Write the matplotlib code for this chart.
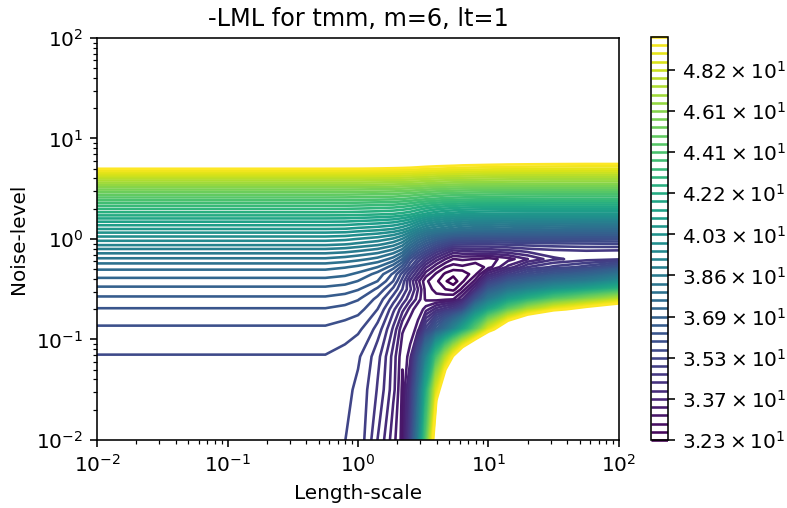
import numpy as np
import matplotlib
matplotlib.use("Agg")
import matplotlib.pyplot as plt
from matplotlib.colors import LogNorm
from matplotlib.ticker import FuncFormatter

# grid nodes, log10 of the hyperparameters
log_length = [-2, -1, -0.5, -0.25, -0.1, 0, 0.15, 0.27, 0.34, 0.4, 0.46, 0.52,
              0.6, 0.67, 0.73, 0.8, 0.9, 1.0, 1.15, 1.3, 1.5, 1.75, 2.0]
log_noise = [-2, -1.5, -1.17, -0.9, -0.7, -0.6, -0.5, -0.42, -0.35, -0.28, -0.2,
             -0.12, -0.05, 0.1, 0.25, 0.4, 0.55, 0.7, 0.85, 1.2, 2]

# -LML, one row per noise level (bottom -> top)
neg_lml = [
    [35.37, 35.37, 35.37, 35.37, 35.28, 35.21, 34.34, 33.55, 33.03, 34.96, 38.58, 44.13, 52.76, 56.17, 58.2, 63.09, 67.2, 70.9, 75.44, 79.6, 84.0, 87.8, 90.2],
    [35.46, 35.46, 35.46, 35.46, 35.35, 35.22, 34.62, 33.85, 33.07, 34.34, 37.22, 41.82, 48.69, 52.76, 55.17, 58.2, 61.98, 65.39, 69.6, 72.8, 75.44, 77.5, 78.9],
    [35.58, 35.58, 35.58, 35.58, 35.49, 35.33, 34.77, 33.91, 33.20, 33.58, 35.91, 38.92, 43.73, 47.40, 50.23, 53.23, 56.67, 59.26, 62.53, 65.39, 67.8, 69.0, 69.0],
    [35.86, 35.86, 35.86, 35.86, 35.77, 35.67, 35.15, 34.28, 33.49, 33.20, 33.60, 35.12, 36.56, 37.89, 39.45, 41.63, 44.92, 48.91, 53.23, 56.17, 58.2, 59.79, 60.33],
    [36.21, 36.21, 36.21, 36.21, 36.13, 36.04, 35.59, 34.74, 34.15, 33.60, 33.20, 33.58, 34.19, 34.53, 34.81, 35.59, 39.10, 41.55, 44.76, 47.27, 49.48, 51.14, 52.76],
    [36.48, 36.48, 36.48, 36.48, 36.40, 36.26, 35.81, 35.12, 34.59, 34.09, 33.58, 33.07, 32.99, 33.07, 33.13, 33.73, 36.07, 38.58, 41.07, 42.57, 44.52, 46.15, 47.83],
    [36.80, 36.80, 36.80, 36.80, 36.72, 36.59, 36.17, 35.52, 34.96, 34.40, 33.73, 33.01, 32.72, 32.55, 32.45, 32.93, 34.06, 36.48, 38.06, 39.10, 40.34, 41.44, 42.81],
    [37.10, 37.10, 37.10, 37.10, 37.03, 36.88, 36.56, 35.91, 35.15, 34.28, 33.52, 32.90, 32.61, 32.29, 32.09, 32.49, 33.25, 34.96, 36.33, 37.05, 37.89, 38.58, 39.98],
    [37.37, 37.37, 37.37, 37.37, 37.29, 37.15, 36.76, 36.17, 35.46, 34.74, 34.03, 33.28, 32.78, 32.49, 32.35, 32.33, 32.78, 33.91, 34.87, 35.69, 36.33, 36.98, 38.06],
    [37.67, 37.67, 37.67, 37.67, 37.58, 37.48, 37.22, 36.69, 36.10, 35.33, 34.53, 33.79, 33.22, 32.84, 32.70, 32.78, 32.56, 33.01, 33.82, 34.65, 35.05, 35.43, 36.23],
    [38.18, 38.18, 38.18, 38.18, 38.09, 37.99, 37.79, 37.42, 36.88, 35.85, 35.21, 34.59, 33.88, 33.43, 33.13, 33.19, 33.13, 33.01, 33.31, 33.73, 34.29, 34.50, 34.59],
    [38.75, 38.75, 38.75, 38.75, 38.68, 38.58, 38.40, 38.09, 37.72, 36.88, 36.17, 35.59, 34.81, 34.34, 33.94, 34.03, 34.09, 34.12, 34.25, 34.43, 34.56, 34.63, 34.59],
    [39.38, 39.38, 39.38, 39.38, 39.31, 39.20, 39.03, 38.75, 38.40, 37.72, 37.05, 36.49, 35.85, 35.43, 35.05, 35.02, 34.99, 34.99, 35.05, 35.12, 35.18, 35.22, 35.26],
    [40.71, 40.71, 40.71, 40.71, 40.69, 40.60, 40.49, 40.34, 40.12, 39.81, 39.27, 38.85, 38.58, 38.40, 38.23, 38.06, 37.96, 37.89, 37.82, 37.72, 37.65, 37.58, 37.55],
    [42.38, 42.38, 42.38, 42.38, 42.37, 42.34, 42.27, 42.19, 42.08, 41.93, 41.67, 41.40, 41.14, 40.99, 40.90, 40.78, 40.73, 40.70, 40.66, 40.64, 40.64, 40.64, 40.64],
    [44.33, 44.33, 44.33, 44.33, 44.32, 44.29, 44.25, 44.21, 44.13, 44.05, 43.93, 43.81, 43.69, 43.60, 43.55, 43.50, 43.45, 43.41, 43.38, 43.36, 43.34, 43.34, 43.34],
    [46.77, 46.77, 46.77, 46.77, 46.77, 46.77, 46.73, 46.69, 46.64, 46.60, 46.56, 46.48, 46.40, 46.34, 46.30, 46.27, 46.24, 46.22, 46.19, 46.17, 46.15, 46.15, 46.15],
    [50.03, 50.03, 50.03, 50.03, 50.02, 50.01, 49.97, 49.92, 49.88, 49.83, 49.75, 49.66, 49.57, 49.51, 49.46, 49.39, 49.34, 49.29, 49.22, 49.19, 49.16, 49.13, 49.13],
    [53.23, 53.23, 53.23, 53.23, 53.23, 53.23, 53.23, 53.18, 53.14, 53.09, 53.0, 52.9, 52.81, 52.75, 52.70, 52.62, 52.57, 52.51, 52.44, 52.39, 52.33, 52.3, 52.3],
    [61.4, 61.4, 61.4, 61.4, 61.4, 61.4, 61.3, 61.2, 61.1, 61.0, 60.9, 60.7, 60.5, 60.35, 60.25, 60.1, 60.0, 59.85, 59.7, 59.6, 59.45, 59.3, 59.3],
    [78.9, 78.9, 78.9, 78.9, 78.9, 78.8, 78.7, 78.5, 78.3, 78.1, 77.9, 77.6, 77.3, 77.1, 76.9, 76.7, 76.5, 76.3, 76.1, 75.9, 75.6, 75.5, 75.4],
]

lml_min, lml_max = 32.26, 50.0
n_levels = 50

length_scale = 10.0 ** np.array(log_length)
noise_level = 10.0 ** np.array(log_noise)
Z = np.array(neg_lml)
levels = np.logspace(np.log10(lml_min), np.log10(lml_max), n_levels)
norm = LogNorm(vmin=lml_min, vmax=lml_max)

fig = plt.figure(figsize=(787 / 144, 508 / 144), dpi=144)
ax = fig.add_axes([0.1233, 0.1339, 0.6632, 0.7913])
cax = fig.add_axes([0.8272, 0.1339, 0.0216, 0.7933])

CS = ax.contour(length_scale, noise_level, Z, levels=levels, norm=norm,
                cmap="viridis", linewidths=1.3)
ax.set_xscale("log")
ax.set_yscale("log")
ax.set_xlim(1e-2, 1e2)
ax.set_ylim(1e-2, 1e2)
ax.set_xlabel("Length-scale")
ax.set_ylabel("Noise-level")
ax.set_title("-LML for tmm, m=6, lt=1")

cb = fig.colorbar(CS, cax=cax)
cb.set_ticks(levels[::5])
cb.ax.yaxis.set_major_formatter(
    FuncFormatter(lambda v, p: r"$\mathdefault{%.2f\times10^{1}}$" % (v / 10)))
cb.minorticks_off()

fig.savefig("out.png", dpi=144)
